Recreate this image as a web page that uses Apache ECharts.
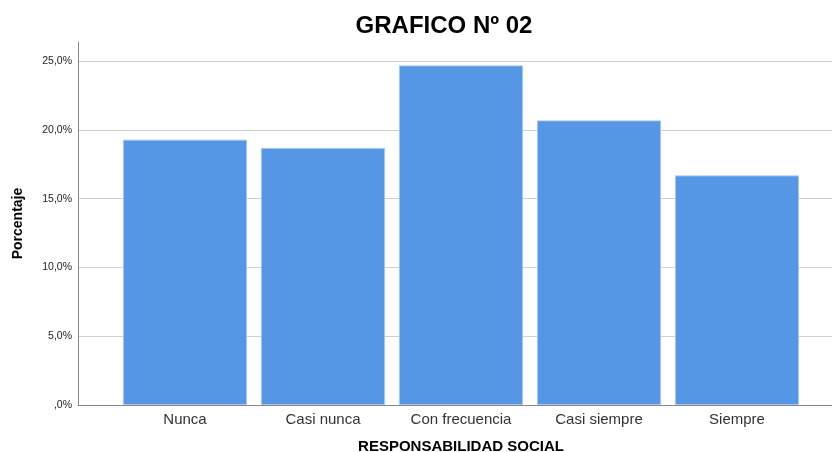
<!DOCTYPE html>
<html>
<head>
<meta charset="utf-8">
<script src="https://cdn.jsdelivr.net/npm/echarts@6/dist/echarts.min.js"></script>
<style>
  html, body { margin:0; padding:0; background:#fff; }
  #chart { width:832px; height:452px; }
</style>
</head>
<body>
<div id="chart"></div>
<script>
var categories = ['Nunca', 'Casi nunca', 'Con frecuencia', 'Casi siempre', 'Siempre'];
var porcentajes = [19.3, 18.7, 24.7, 20.7, 16.7];
var yTicks = [0, 5, 10, 15, 20, 25];

var yMax = 26.4;
var myChart = echarts.init(document.getElementById('chart'));
var font = 'Liberation Sans, Arial, sans-serif';

myChart.setOption({
  animation: false,
  title: {
    text: 'GRAFICO Nº 02',
    left: 439,
    top: 9,
    textAlign: 'center',
    textStyle: { fontFamily: font, fontSize: 24, fontWeight: 'bold', color: '#000' }
  },
  grid: [
    // frame with y axis and grid lines
    { left: 78, right: 0, top: 42, bottom: 47, outerBoundsMode: 'none' },
    // bars
    { left: 116, right: 26, top: 42, bottom: 47, outerBoundsMode: 'none' }
  ],
  xAxis: [
    {
      gridIndex: 0, type: 'value', min: 0, max: 1,
      axisLine: { show: true, onZero: false, lineStyle: { color: '#888', width: 1 } },
      axisTick: { show: false }, axisLabel: { show: false }, splitLine: { show: false }
    },
    {
      gridIndex: 1, type: 'category', data: categories,
      axisLine: { show: false }, axisTick: { show: false },
      axisLabel: { fontFamily: font, fontSize: 15, color: '#333', margin: 7 },
      name: 'RESPONSABILIDAD SOCIAL', nameLocation: 'middle', nameGap: 34,
      nameTextStyle: { fontFamily: font, fontSize: 15, fontWeight: 'bold', color: '#000' }
    }
  ],
  yAxis: [
    {
      gridIndex: 0, type: 'value', min: 0, max: yMax,
      interval: 5,
      axisLine: { show: true, lineStyle: { color: '#888', width: 1 } },
      axisTick: { show: false },
      axisLabel: {
        fontFamily: font, fontSize: 10.5, color: '#222', margin: 6,
        formatter: function (v) {
          if (yTicks.indexOf(v) < 0) return '';
          return v === 0 ? ',0%' : v.toFixed(1).replace('.', ',') + '%';
        }
      },
      splitLine: { showMaxLine: false, lineStyle: { color: '#d0d0d0', width: 1 } },
      name: 'Porcentaje', nameLocation: 'middle', nameGap: 53,
      nameTextStyle: { fontFamily: font, fontSize: 14, fontWeight: 'bold', color: '#000' }
    },
    {
      gridIndex: 1, type: 'value', min: 0, max: yMax, show: false
    }
  ],
  series: [
    {
      type: 'bar', xAxisIndex: 1, yAxisIndex: 1,
      data: porcentajes,
      barCategoryGap: '10%',
      itemStyle: { color: '#5596e5', borderColor: '#a8c6ef', borderWidth: 1 },
      z: 3
    }
  ]
});
</script>
</body>
</html>
